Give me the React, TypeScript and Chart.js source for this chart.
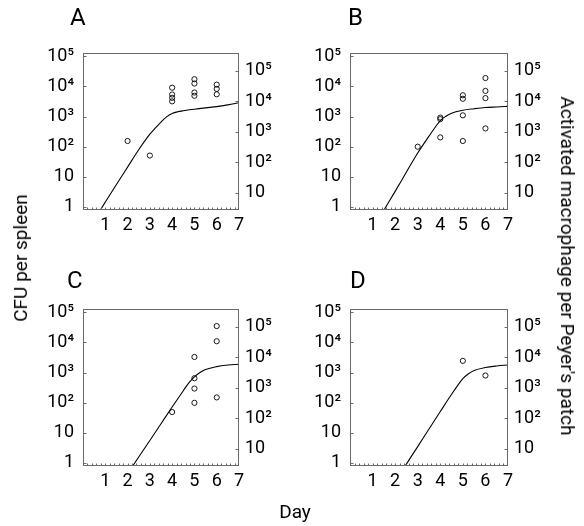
import React, { useEffect, useRef } from 'react';
import { Chart, registerables } from 'chart.js';

Chart.register(...registerables);

// ---------- data ----------
const dayTicks = [1, 2, 3, 4, 5, 6, 7];
const leftTickValues = [1, 10, 100, 1000, 10000, 100000];
const leftTickLabels = ['1', '10', '10²', '10³', '10⁴', '10⁵'];
const rightTickValues = [10, 100, 1000, 10000, 100000];
const rightTickLabels = ['10', '10²', '10³', '10⁴', '10⁵'];

// Panel A
const curveDaysA = [0.5, 1, 1.5, 2, 2.5, 3, 3.25, 3.5, 3.75, 4, 4.25, 4.5, 5, 5.5, 6, 6.5, 7];
const curveA = [0.37, 1.45, 5.6, 21, 79, 260, 420, 660, 980, 1260, 1440, 1560, 1760, 1950, 2140, 2450, 2880];
const obsDaysA = [2, 3, 4, 4, 4, 4, 5, 5, 5, 5, 6, 6, 6];
const obsA = [155, 51, 9100, 5400, 4200, 3200, 17400, 12500, 6300, 4900, 11500, 8300, 5500];

// Panel B
const curveDaysB = [1, 1.5, 2, 2.5, 3, 3.5, 3.75, 4, 4.25, 4.5, 5, 5.5, 6, 6.5, 7];
const curveB = [0.18, 0.78, 3.3, 14.5, 62, 224, 417, 740, 1030, 1300, 1620, 1820, 2000, 2090, 2190];
const obsDaysB = [3, 4, 4, 4, 5, 5, 5, 5, 6, 6, 6, 6];
const obsB = [100, 930, 820, 204, 5100, 3900, 1100, 155, 19000, 7100, 4100, 405];

// Panel C
const curveDaysC = [2, 2.5, 3, 3.5, 4, 4.5, 4.75, 5, 5.25, 5.5, 6, 6.5, 7];
const curveC = [0.44, 1.58, 5.6, 20, 72, 250, 457, 720, 1000, 1260, 1580, 1780, 1900];
const obsDaysC = [4, 5, 5, 5, 5, 6, 6, 6];
const obsC = [49, 3300, 650, 295, 99, 35000, 11000, 150];

// Panel D
const curveDaysD = [2, 2.5, 3, 3.5, 4, 4.5, 4.75, 5, 5.25, 5.5, 6, 6.5, 7];
const curveD = [0.25, 0.93, 3.5, 13.5, 51, 190, 355, 630, 910, 1175, 1480, 1660, 1780];
const obsDaysD = [5, 6];
const obsD = [2450, 800];

// ---------- style ----------
const FONT = 'Roboto';
const FRAME = '#6a6a6a';
const CANVAS_W = 300;
const CANVAS_H = 237;
const PAD_TOP = 40;
const X_AXIS_H = 40;
const LEFT_AXIS_W = 83;

const framePlugin = {
  id: 'frame',
  afterDraw(chart: any) {
    const { ctx, chartArea: a, scales } = chart;
    ctx.save();
    ctx.strokeStyle = FRAME;
    ctx.lineWidth = 1;
    const L = Math.round(a.left) + 0.5;
    const R = Math.round(a.right) - 0.5;
    const T = Math.round(a.top) + 0.5;
    const B = Math.round(a.bottom) - 0.5;
    ctx.strokeRect(L, T, R - L, B - T);
    ctx.beginPath();
    scales.y.ticks.forEach((t: any) => {
      const y = Math.round(scales.y.getPixelForValue(t.value)) + 0.5;
      ctx.moveTo(L, y);
      ctx.lineTo(L + 3, y);
    });
    scales.y2.ticks.forEach((t: any) => {
      const y = Math.round(scales.y2.getPixelForValue(t.value)) + 0.5;
      ctx.moveTo(R, y);
      ctx.lineTo(R - 3, y);
    });
    for (let i = 1; i < 35; i++) {
      const x = Math.round(scales.x.getPixelForValue(i * 0.2)) + 0.5;
      ctx.moveTo(x, B);
      ctx.lineTo(x, B - 2);
    }
    ctx.stroke();
    ctx.restore();
  },
};

type PanelProps = {
  curveDays: number[];
  curve: number[];
  obsDays: number[];
  obs: number[];
  left: number;
  top: number;
  plotW: number;
};

function Panel({ curveDays, curve, obsDays, obs, left, top, plotW }: PanelProps) {
  const ref = useRef<HTMLCanvasElement>(null);
  useEffect(() => {
    const tickFont = { family: FONT, size: 18 };
    const chart = new Chart(ref.current as HTMLCanvasElement, {
      type: 'scatter',
      data: {
        datasets: [
          {
            type: 'line',
            data: curveDays.map((d, i) => ({ x: d, y: curve[i] })),
            borderColor: '#000',
            borderWidth: 1.1,
            pointRadius: 0,
            cubicInterpolationMode: 'monotone',
            yAxisID: 'y',
            xAxisID: 'x',
          } as any,
          {
            type: 'scatter',
            data: obsDays.map((d, i) => ({ x: d, y: obs[i] })),
            pointStyle: 'circle',
            pointRadius: 2.6,
            borderColor: '#000',
            borderWidth: 0.9,
            backgroundColor: 'rgba(0,0,0,0)',
            yAxisID: 'y',
            xAxisID: 'x',
          } as any,
        ],
      },
      options: {
        responsive: false,
        animation: false,
        devicePixelRatio: 1,
        layout: { padding: { top: PAD_TOP, left: 0, right: 0, bottom: 0 } },
        plugins: { legend: { display: false }, tooltip: { enabled: false } },
        scales: {
          x: {
            type: 'linear',
            position: 'bottom',
            min: 0,
            max: 7,
            bounds: 'data',
            afterBuildTicks: (s: any) => {
              s.ticks = dayTicks.map((v) => ({ value: v }));
            },
            afterFit: (s: any) => {
              s.height = X_AXIS_H;
            },
            grid: { display: false, drawTicks: false },
            border: { display: false },
            ticks: { font: tickFont, color: '#000', padding: 5, maxRotation: 0, autoSkip: false },
          },
          y: {
            type: 'logarithmic',
            position: 'left',
            min: Math.pow(10, -0.1),
            max: Math.pow(10, 5.11),
            bounds: 'data',
            afterBuildTicks: (s: any) => {
              s.ticks = leftTickValues.map((v) => ({ value: v }));
            },
            afterFit: (s: any) => {
              s.width = LEFT_AXIS_W;
            },
            grid: { display: false, drawTicks: false },
            border: { display: false },
            ticks: {
              font: tickFont,
              color: '#000',
              padding: 9,
              autoSkip: false,
              callback: (_v: any, i: number) => leftTickLabels[i],
            },
          },
          y2: {
            type: 'logarithmic',
            position: 'right',
            min: Math.pow(10, 0.44),
            max: Math.pow(10, 5.58),
            bounds: 'data',
            afterBuildTicks: (s: any) => {
              s.ticks = rightTickValues.map((v) => ({ value: v }));
            },
            afterFit: (s: any) => {
              s.width = CANVAS_W - LEFT_AXIS_W - plotW;
            },
            grid: { display: false, drawTicks: false },
            border: { display: false },
            ticks: {
              font: tickFont,
              color: '#000',
              padding: 6,
              autoSkip: false,
              callback: (_v: any, i: number) => rightTickLabels[i],
            },
          },
        },
      } as any,
      plugins: [framePlugin],
    });
    return () => chart.destroy();
  }, []);
  return (
    <canvas
      ref={ref}
      width={CANVAS_W}
      height={CANVAS_H}
      style={{ position: 'absolute', left, top, width: CANVAS_W, height: CANVAS_H }}
    />
  );
}

const letterStyle: React.CSSProperties = {
  position: 'absolute',
  fontFamily: FONT,
  fontSize: 24,
  lineHeight: '24px',
  color: '#000',
};

const titleStyle: React.CSSProperties = {
  position: 'absolute',
  fontFamily: FONT,
  fontSize: 19,
  lineHeight: '20px',
  color: '#000',
  whiteSpace: 'nowrap',
};

export default function App() {
  return (
    <div style={{ position: 'absolute', left: 0, top: 0, width: 584, height: 526, background: '#fff' }}>
      <Panel curveDays={curveDaysA} curve={curveA} obsDays={obsDaysA} obs={obsA} left={0} top={13} plotW={156} />
      <Panel curveDays={curveDaysB} curve={curveB} obsDays={obsDaysB} obs={obsB} left={267} top={13} plotW={158} />
      <Panel curveDays={curveDaysC} curve={curveC} obsDays={obsDaysC} obs={obsC} left={0} top={269} plotW={156} />
      <Panel curveDays={curveDaysD} curve={curveD} obsDays={obsDaysD} obs={obsD} left={267} top={269} plotW={158} />
      <div style={{ ...letterStyle, left: 70, top: 5 }}>A</div>
      <div style={{ ...letterStyle, left: 348, top: 5 }}>B</div>
      <div style={{ ...letterStyle, left: 67, top: 268 }}>C</div>
      <div style={{ ...letterStyle, left: 350, top: 268 }}>D</div>
      <div style={{ ...titleStyle, left: 21, top: 258, transform: 'translate(-50%, -50%) rotate(-90deg)' }}>
        CFU per spleen
      </div>
      <div style={{ ...titleStyle, left: 567, top: 266, transform: 'translate(-50%, -50%) rotate(90deg)' }}>
        Activated macrophage per Peyer's patch
      </div>
      <div style={{ ...titleStyle, left: 295, top: 512, transform: 'translate(-50%, -50%)' }}>Day</div>
    </div>
  );
}
